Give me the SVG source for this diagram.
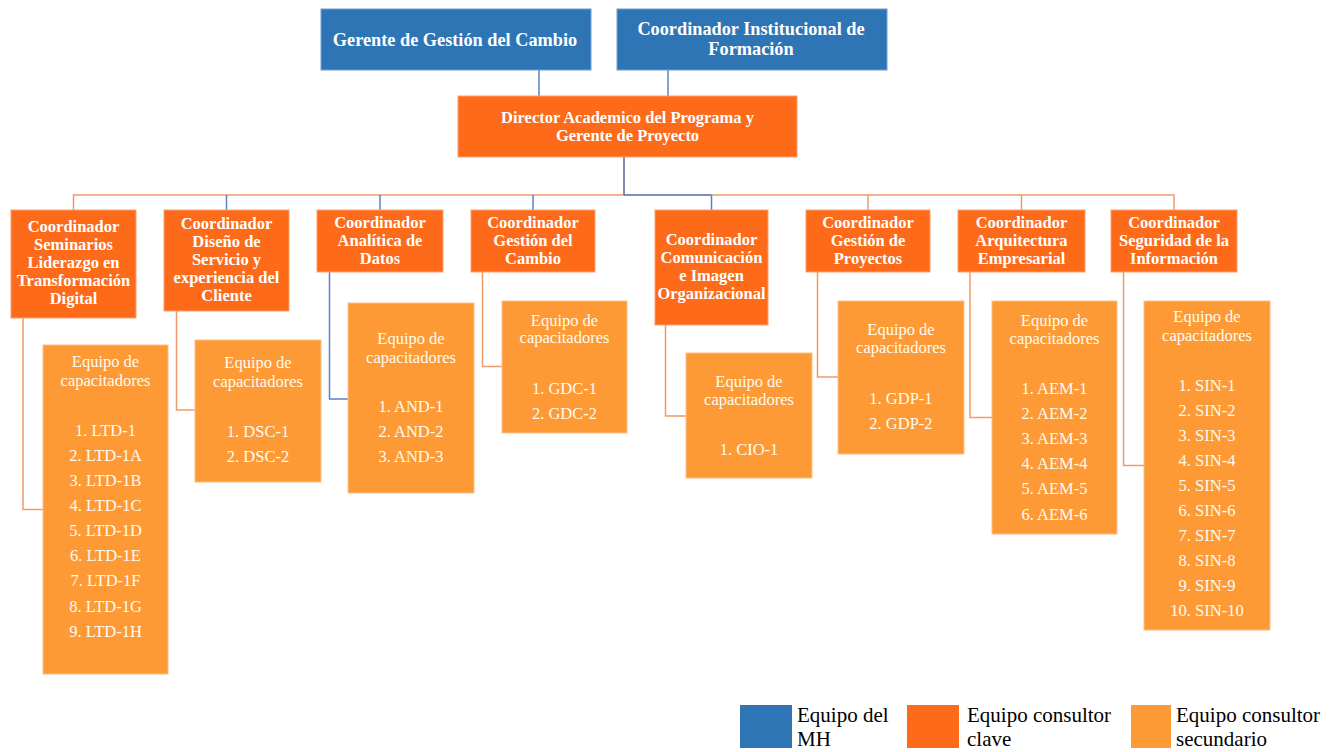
<svg xmlns="http://www.w3.org/2000/svg" width="1341" height="752" viewBox="0 0 1341 752">
<style>
.blue{fill:#2E75B6;stroke:#6fa0d0;stroke-width:1}
.key{fill:#FD6A19;stroke:#fca070;stroke-width:1}
.sec{fill:#FD9A35;stroke:#fdc08a;stroke-width:1}
.tb{font-family:"Liberation Serif","Times New Roman",serif;font-weight:bold;fill:#ffffff;text-anchor:middle}
.t18{font-size:18.3px}
.t16{font-size:16.5px}
.tr{font-family:"Liberation Serif","Times New Roman",serif;font-size:16.5px;fill:#fffaf2;text-anchor:middle}
.lg{font-family:"Liberation Serif","Times New Roman",serif;font-size:21px;fill:#000000}
.co{fill:none;stroke:#EE9A6A;stroke-width:1.5}
.cb{fill:none;stroke:#5B80C6;stroke-width:1.5}
</style>
<rect width="1341" height="752" fill="#ffffff"/>

<g id="connectors">
  <line class="cb" x1="539" y1="70" x2="539" y2="96"/>
  <line class="cb" x1="668" y1="70" x2="668" y2="96"/>
  <polyline class="co" points="73.5,210 73.5,195 1174,195 1174,210"/>
  <line class="cb" x1="624" y1="195" x2="711.5" y2="195"/>
  <line class="cb" x1="624" y1="157" x2="624" y2="195" style="stroke:#5a6690"/>
  <line class="cb" x1="226.5" y1="195" x2="226.5" y2="210"/>
  <line class="cb" x1="380" y1="195" x2="380" y2="210"/>
  <line class="cb" x1="533" y1="195" x2="533" y2="210"/>
  <line class="cb" x1="711.5" y1="195" x2="711.5" y2="210"/>
  <line class="co" x1="868" y1="195" x2="868" y2="210"/>
  <line class="co" x1="1021.5" y1="195" x2="1021.5" y2="210"/>
  <polyline class="co" points="23,318 23,509.5 43,509.5"/>
  <polyline class="co" points="176.5,311 176.5,410 195,410"/>
  <polyline class="cb" points="329.5,272 329.5,399 348,399"/>
  <polyline class="co" points="482.5,272 482.5,366.5 502,366.5"/>
  <polyline class="co" points="665.5,325 665.5,416 686,416"/>
  <polyline class="co" points="817.5,272 817.5,377 838,377"/>
  <polyline class="co" points="970,272 970,417.5 992,417.5"/>
  <polyline class="co" points="1123.5,272 1123.5,465.5 1145,465.5"/>
</g>

<g id="gerente-gestion-cambio">
  <rect class="blue" x="321" y="9" width="270" height="61"/>
  <text class="tb t18" x="455" y="46">Gerente de Gestión del Cambio</text>
</g>
<g id="coordinador-institucional">
  <rect class="blue" x="617" y="9" width="270" height="61"/>
  <text class="tb t18" x="751" y="34.5">Coordinador Institucional de</text>
  <text class="tb t18" x="751" y="55">Formación</text>
</g>
<g id="director">
  <rect class="key" x="458" y="96" width="339" height="61"/>
  <text class="tb t16" x="627.5" y="122.5">Director Academico del Programa y</text>
  <text class="tb t16" x="627.5" y="141">Gerente de Proyecto</text>
</g>

<g id="coord-ltd">
  <rect class="key" x="11" y="210" width="125" height="108"/>
  <text class="tb t16" x="73.5" y="232">Coordinador</text>
  <text class="tb t16" x="73.5" y="250">Seminarios</text>
  <text class="tb t16" x="73.5" y="268">Liderazgo en</text>
  <text class="tb t16" x="73.5" y="286">Transformación</text>
  <text class="tb t16" x="73.5" y="304">Digital</text>
</g>
<g id="coord-dsc">
  <rect class="key" x="164" y="210" width="125" height="101"/>
  <text class="tb t16" x="226.5" y="229">Coordinador</text>
  <text class="tb t16" x="226.5" y="247">Diseño de</text>
  <text class="tb t16" x="226.5" y="265">Servicio y</text>
  <text class="tb t16" x="226.5" y="283">experiencia del</text>
  <text class="tb t16" x="226.5" y="301">Cliente</text>
</g>
<g id="coord-and">
  <rect class="key" x="317" y="210" width="126" height="62"/>
  <text class="tb t16" x="380" y="228">Coordinador</text>
  <text class="tb t16" x="380" y="246">Analítica de</text>
  <text class="tb t16" x="380" y="264">Datos</text>
</g>
<g id="coord-gdc">
  <rect class="key" x="471" y="210" width="124" height="62"/>
  <text class="tb t16" x="533" y="228">Coordinador</text>
  <text class="tb t16" x="533" y="246">Gestión del</text>
  <text class="tb t16" x="533" y="264">Cambio</text>
</g>
<g id="coord-cio">
  <rect class="key" x="655" y="210" width="113" height="115"/>
  <text class="tb t16" x="711.5" y="245">Coordinador</text>
  <text class="tb t16" x="711.5" y="263">Comunicación</text>
  <text class="tb t16" x="711.5" y="281">e Imagen</text>
  <text class="tb t16" x="711.5" y="299">Organizacional</text>
</g>
<g id="coord-gdp">
  <rect class="key" x="806" y="210" width="124" height="62"/>
  <text class="tb t16" x="868" y="228">Coordinador</text>
  <text class="tb t16" x="868" y="246">Gestión de</text>
  <text class="tb t16" x="868" y="264">Proyectos</text>
</g>
<g id="coord-aem">
  <rect class="key" x="958" y="210" width="127" height="62"/>
  <text class="tb t16" x="1021.5" y="228">Coordinador</text>
  <text class="tb t16" x="1021.5" y="246">Arquitectura</text>
  <text class="tb t16" x="1021.5" y="264">Empresarial</text>
</g>
<g id="coord-sin">
  <rect class="key" x="1111" y="210" width="126" height="62"/>
  <text class="tb t16" x="1174" y="228">Coordinador</text>
  <text class="tb t16" x="1174" y="246">Seguridad de la</text>
  <text class="tb t16" x="1174" y="264">Información</text>
</g>

<g id="equipo-ltd">
  <rect class="sec" x="43" y="345" width="125" height="329"/>
  <text class="tr" x="105.5" y="367">Equipo de</text>
  <text class="tr" x="105.5" y="385.5">capacitadores</text>
  <text class="tr" x="105.5" y="435.5">1. LTD-1</text>
  <text class="tr" x="105.5" y="460.5">2. LTD-1A</text>
  <text class="tr" x="105.5" y="486">3. LTD-1B</text>
  <text class="tr" x="105.5" y="511">4. LTD-1C</text>
  <text class="tr" x="105.5" y="536">5. LTD-1D</text>
  <text class="tr" x="105.5" y="561">6. LTD-1E</text>
  <text class="tr" x="105.5" y="586">7. LTD-1F</text>
  <text class="tr" x="105.5" y="611.5">8. LTD-1G</text>
  <text class="tr" x="105.5" y="637">9. LTD-1H</text>
</g>
<g id="equipo-dsc">
  <rect class="sec" x="195" y="340" width="126" height="142"/>
  <text class="tr" x="258" y="368">Equipo de</text>
  <text class="tr" x="258" y="386.5">capacitadores</text>
  <text class="tr" x="258" y="437">1. DSC-1</text>
  <text class="tr" x="258" y="461.5">2. DSC-2</text>
</g>
<g id="equipo-and">
  <rect class="sec" x="348" y="303" width="126" height="190"/>
  <text class="tr" x="411" y="343.5">Equipo de</text>
  <text class="tr" x="411" y="362.5">capacitadores</text>
  <text class="tr" x="411" y="412">1. AND-1</text>
  <text class="tr" x="411" y="437">2. AND-2</text>
  <text class="tr" x="411" y="462">3. AND-3</text>
</g>
<g id="equipo-gdc">
  <rect class="sec" x="502" y="301" width="125" height="132"/>
  <text class="tr" x="564.5" y="325.5">Equipo de</text>
  <text class="tr" x="564.5" y="343">capacitadores</text>
  <text class="tr" x="564.5" y="394">1. GDC-1</text>
  <text class="tr" x="564.5" y="419">2. GDC-2</text>
</g>
<g id="equipo-cio">
  <rect class="sec" x="686" y="353" width="126" height="125"/>
  <text class="tr" x="749" y="386.5">Equipo de</text>
  <text class="tr" x="749" y="404.5">capacitadores</text>
  <text class="tr" x="749" y="454.5">1. CIO-1</text>
</g>
<g id="equipo-gdp">
  <rect class="sec" x="838" y="301" width="126" height="153"/>
  <text class="tr" x="901" y="334.5">Equipo de</text>
  <text class="tr" x="901" y="353">capacitadores</text>
  <text class="tr" x="901" y="403.5">1. GDP-1</text>
  <text class="tr" x="901" y="428.5">2. GDP-2</text>
</g>
<g id="equipo-aem">
  <rect class="sec" x="992" y="301" width="125" height="233"/>
  <text class="tr" x="1054.5" y="325.5">Equipo de</text>
  <text class="tr" x="1054.5" y="343.5">capacitadores</text>
  <text class="tr" x="1054.5" y="393.5">1. AEM-1</text>
  <text class="tr" x="1054.5" y="418.5">2. AEM-2</text>
  <text class="tr" x="1054.5" y="444">3. AEM-3</text>
  <text class="tr" x="1054.5" y="469">4. AEM-4</text>
  <text class="tr" x="1054.5" y="494">5. AEM-5</text>
  <text class="tr" x="1054.5" y="519.5">6. AEM-6</text>
</g>
<g id="equipo-sin">
  <rect class="sec" x="1144" y="301" width="126" height="329"/>
  <text class="tr" x="1207" y="322">Equipo de</text>
  <text class="tr" x="1207" y="340.5">capacitadores</text>
  <text class="tr" x="1207" y="390.5">1. SIN-1</text>
  <text class="tr" x="1207" y="415.5">2. SIN-2</text>
  <text class="tr" x="1207" y="440.5">3. SIN-3</text>
  <text class="tr" x="1207" y="465.5">4. SIN-4</text>
  <text class="tr" x="1207" y="490.5">5. SIN-5</text>
  <text class="tr" x="1207" y="515.5">6. SIN-6</text>
  <text class="tr" x="1207" y="541">7. SIN-7</text>
  <text class="tr" x="1207" y="566">8. SIN-8</text>
  <text class="tr" x="1207" y="591">9. SIN-9</text>
  <text class="tr" x="1207" y="616">10. SIN-10</text>
</g>

<g id="legend">
  <rect x="740" y="705" width="52" height="43" fill="#2E75B6"/>
  <text class="lg" x="797" y="722">Equipo del</text>
  <text class="lg" x="797" y="746">MH</text>
  <rect x="907" y="705" width="52" height="43" fill="#FD6A19"/>
  <text class="lg" x="967" y="722">Equipo consultor</text>
  <text class="lg" x="967" y="746">clave</text>
  <rect x="1131" y="705" width="40" height="43" fill="#FD9A35"/>
  <text class="lg" x="1176" y="722">Equipo consultor</text>
  <text class="lg" x="1176" y="746">secundario</text>
</g>
</svg>
